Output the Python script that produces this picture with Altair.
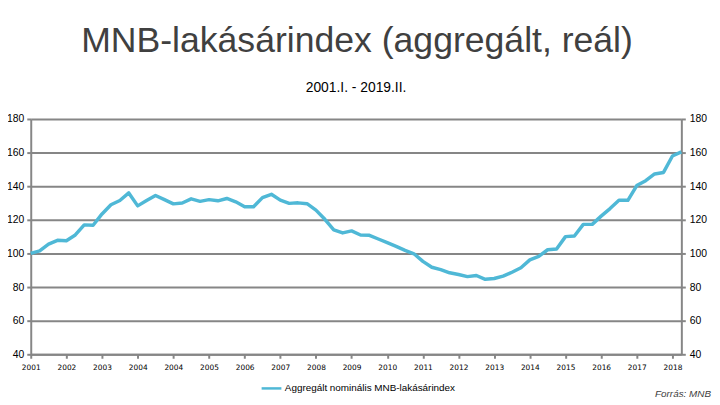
import altair as alt
import pandas as pd

title_text = "MNB-lakásárindex (aggregált, reál)"
subtitle_text = "2001.I. - 2019.II."
source_text = "Forrás: MNB"
series_name = "Aggregált nominális MNB-lakásárindex"

year_labels = ["2001", "2002", "2003", "2004", "2004", "2005", "2006", "2007",
               "2008", "2009", "2010", "2011", "2012", "2013", "2014", "2015",
               "2016", "2017", "2018"]

index_values = [
    100.0, 101.5, 105.5, 107.8, 107.6, 111.0, 117.0, 116.8, 123.5, 129.0,
    131.5, 136.0, 128.3, 131.5, 134.5, 132.0, 129.5, 130.0, 132.5, 131.0,
    132.0, 131.3, 132.7, 130.7, 127.8, 127.8, 133.2, 135.2, 131.7, 129.8,
    130.1, 129.6, 125.8, 120.3, 114.0, 112.2, 113.4, 111.0, 110.8, 108.6,
    106.4, 104.2, 101.8, 99.8, 95.3, 91.8, 90.4, 88.5, 87.5, 86.2,
    86.9, 84.6, 85.1, 86.5, 88.8, 91.5, 96.2, 98.3, 102.2, 102.7,
    110.0, 110.4, 117.3, 117.3, 122.2, 126.7, 131.6, 131.6, 140.4, 143.3,
    147.3, 148.2, 158.0, 160.4,
]
quarter_idx = list(range(len(index_values)))
y_ticks = [40, 60, 80, 100, 120, 140, 160, 180]

df = pd.DataFrame({"q": quarter_idx, "v": index_values, "s": [series_name] * len(index_values)})

W, H = 658, 238
GRID = "#868686"
LINE = "#4FB8D6"
label_expr = "[" + ",".join("'%s'" % y for y in year_labels) + "][datum.value/4]"

x_enc = alt.X("q:Q",
              scale=alt.Scale(domain=[0, len(index_values) - 1], nice=False, zero=False),
              axis=alt.Axis(values=list(range(0, len(index_values) - 1, 4)), labelExpr=label_expr,
                            title=None, grid=False, domainColor=GRID, domainWidth=2,
                            tickColor=GRID, tickWidth=2, tickSize=4, labelFont="DejaVu Sans",
                            labelFontSize=7.5, labelColor="#000", labelPadding=5,
                            labelFlush=False, labelOverlap=False))

y_scale = alt.Scale(domain=[40, 180], nice=False, zero=False)

line = alt.Chart(df).mark_line(strokeWidth=3.5, strokeJoin="round").encode(
    x=x_enc,
    y=alt.Y("v:Q", scale=y_scale,
            axis=alt.Axis(values=y_ticks, title=None, grid=True, gridColor=GRID, gridWidth=2,
                          domainColor=GRID, domainWidth=2, tickColor=GRID, tickWidth=2,
                          tickSize=4, labelFont="Liberation Sans", labelFontSize=10.5,
                          labelColor="#000", labelPadding=3, orient="left")),
    color=alt.Color("s:N", scale=alt.Scale(range=[LINE]),
                    legend=alt.Legend(title=None, orient="none", legendX=232, legendY=261,
                                      symbolType="stroke", symbolSize=400, symbolStrokeWidth=2.5,
                                      labelFont="Liberation Sans", labelFontSize=10,
                                      labelColor="#000", labelOffset=2, padding=0,
                                      labelLimit=0)),
)

right = alt.Chart(df).mark_line(opacity=0).encode(
    x=x_enc,
    y=alt.Y("v:Q", scale=y_scale,
            axis=alt.Axis(values=y_ticks, title=None, grid=False, domainColor=GRID, domainWidth=2,
                          tickColor=GRID, tickWidth=2, tickSize=4, labelFont="Liberation Sans",
                          labelFontSize=10.5, labelColor="#000", labelPadding=4, orient="right")),
)

title = alt.Chart(pd.DataFrame({"t": [title_text]})).mark_text(
    font="Liberation Sans", fontSize=36, color="#404040", align="center", baseline="alphabetic"
).encode(x=alt.value(W / 2 + 1), y=alt.value(-68), text="t:N")

subtitle = alt.Chart(pd.DataFrame({"t": [subtitle_text]})).mark_text(
    font="Liberation Sans", fontSize=14, color="#000", align="center", baseline="alphabetic"
).encode(x=alt.value(W / 2), y=alt.value(-27.5), text="t:N")

source = alt.Chart(pd.DataFrame({"t": [source_text]})).mark_text(
    font="Liberation Sans", fontSize=10, fontStyle="italic", color="#404040",
    align="right", baseline="alphabetic"
).encode(x=alt.value(688), y=alt.value(281), text="t:N")

chart = alt.layer(line, right, title, subtitle, source).resolve_scale(
    y="independent"
).properties(
    width=W, height=H,
    autosize=alt.AutoSizeParams(type="none"),
    padding={"left": 23, "top": 110, "right": 31, "bottom": 45},
).configure_view(stroke=None)

chart.save("out.html", embed_options={"renderer": "svg", "actions": False})
